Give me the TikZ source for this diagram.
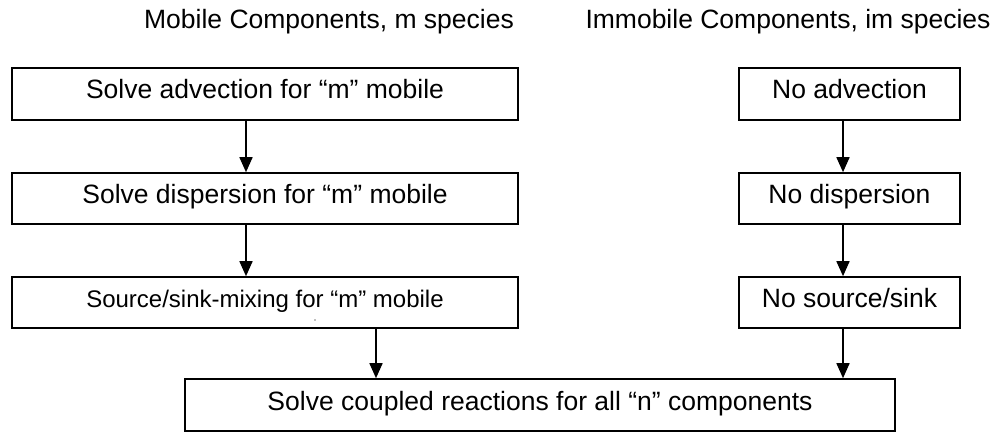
\documentclass[tikz,border=0pt]{standalone}
\usepackage{fontspec}
\setmainfont{Liberation Sans}
\usetikzlibrary{arrows.meta,calc}

\begin{document}
\begin{tikzpicture}[x=1pt,y=-1pt,
  box/.style={draw=black, line width=1.6pt, rectangle, inner sep=0pt,
              font=\fontsize{26.5}{30}\selectfont,
              text height=19pt, text depth=9pt},
  arr/.style={line width=1.6pt, -{Triangle[length=15pt,width=13pt]}},
  head/.style={inner sep=0pt, font=\fontsize{26.5}{30}\selectfont, anchor=base}]
  \useasboundingbox (0,0) rectangle (1003,433);

  % column headings
  \node[head] (hm) at (329,29) {Mobile Components, m species};
  \node[head] (hi) at (788,29) {Immobile Components, im species};

  % mobile column
  \node[box, minimum width=506pt, minimum height=52pt] (m1) at (265,94)
    {Solve advection for “m” mobile};
  \node[box, minimum width=506pt, minimum height=51pt] (m2) at (265,198.5)
    {Solve dispersion for “m” mobile};
  \node[box, minimum width=506pt, minimum height=51pt,
        font=\fontsize{24}{28}\selectfont] (m3) at (265,302.5)
    {Source/sink-mixing for “m” mobile};
  \fill[gray] (315,320) circle (0.8pt);

  % immobile column
  \node[box, minimum width=221pt, minimum height=52pt] (i1) at (849.5,94)
    {No advection};
  \node[box, minimum width=221pt, minimum height=51pt] (i2) at (849.5,198.5)
    {No dispersion};
  \node[box, minimum width=221pt, minimum height=51pt] (i3) at (849.5,302.5)
    {No source/sink};

  % coupled reaction step
  \node[box, minimum width=710pt, minimum height=52pt] (rx) at (540,405)
    {Solve coupled reactions for all “n” components};

  % connectors
  \draw[arr] ([xshift=-19pt]m1.south) -- ([xshift=-19pt]m2.north);
  \draw[arr] ([xshift=-19pt]m2.south) -- ([xshift=-19pt]m3.north);
  \draw[arr] ([xshift=111pt]m3.south) -- ([xshift=111pt]m3.south |- rx.north);
  \draw[arr] ([xshift=-6.5pt]i1.south) -- ([xshift=-6.5pt]i2.north);
  \draw[arr] ([xshift=-6.5pt]i2.south) -- ([xshift=-6.5pt]i3.north);
  \draw[arr] ([xshift=-6.5pt]i3.south) -- ([xshift=-6.5pt]i3.south |- rx.north);
\end{tikzpicture}
\end{document}
